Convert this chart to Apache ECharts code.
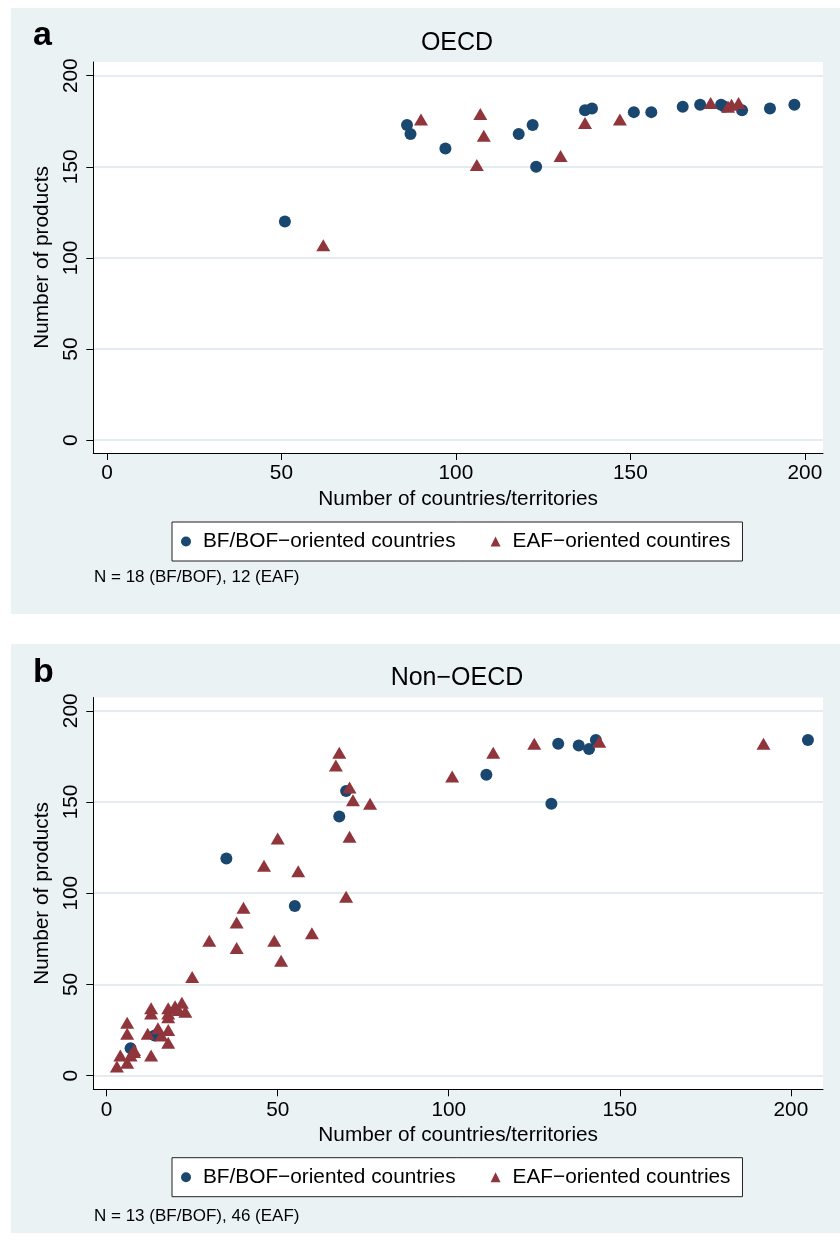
<!DOCTYPE html>
<html>
<head>
<meta charset="utf-8">
<script src="https://cdn.jsdelivr.net/npm/echarts@6/dist/echarts.min.js"></script>
<style>
  html, body { margin: 0; padding: 0; background: #ffffff; }
  body { width: 840px; height: 1243px; position: relative; overflow: hidden; }
  .panel { position: absolute; left: 11px; width: 829px; }
  #panelA { top: 8px; height: 606px; }
  #panelB { top: 644px; height: 589px; }
</style>
</head>
<body>
<div id="panelA" class="panel"></div>
<div id="panelB" class="panel"></div>
<script>
// Axis tick values shared by both panels
const xTicks = [0, 50, 100, 150, 200];
const yTicks = [0, 50, 100, 150, 200];

// Panel a: OECD
const oecdBfX  = [51, 86, 87, 97, 118, 122, 123, 137, 139, 151, 156, 165, 170, 176, 177, 182, 190, 197];
const oecdBfY  = [120, 173, 168, 160, 168, 173, 150, 181, 182, 180, 180, 183, 184, 184, 183, 181, 182, 184];
const oecdEafX = [62, 90, 107, 108, 106, 130, 137, 147, 173, 178, 179, 181];
const oecdEafY = [107, 176, 179, 167, 151, 156, 174, 176, 185, 183, 184, 185];

// Panel b: Non-OECD
const nonBfX  = [111, 130, 132, 138, 141, 143, 205, 70, 68, 35, 55, 7, 14];
const nonBfY  = [165, 149, 182, 181, 179, 184, 184, 156, 142, 119, 93, 15, 22];
const nonEafX = [101, 113, 125, 144, 192, 68, 67, 71, 72, 77, 50, 71, 46, 56, 70, 40, 38, 30, 38, 49, 51, 25, 60,
                 13, 13, 18, 18, 20, 22, 18, 23, 6, 6, 15, 12, 18, 18, 8, 7, 4, 13, 6, 3, 16, 21, 8];
const nonEafY = [164, 177, 182, 183, 182, 177, 170, 158, 151, 149, 130, 131, 115, 112, 98, 92, 84, 74, 70, 74, 63, 54, 78,
                 37, 34, 37, 34, 38, 40, 32, 35, 29, 23, 26, 23, 25, 18, 14, 11, 11, 11, 7, 5, 22, 36, 13];

const BF_NAME = 'BF/BOF\u2212oriented countries';
const NAVY = '#1a476f';
const MAROON = '#90353b';
const FONT = '"Liberation Sans", Arial, Helvetica, sans-serif';
const TXT = 20.8;

function pairs(xs, ys) { return xs.map((x, i) => [x, ys[i]]); }

function buildOption(p) {
  return {
    animation: false,
    backgroundColor: '#eaf2f3',
    textStyle: { fontFamily: FONT },
    graphic: [
      { type: 'text', x: 22, y: p.letterY, style: { text: p.letter, font: 'bold 34px ' + FONT, fill: '#000', textAlign: 'left', textVerticalAlign: 'middle' } },
      { type: 'text', x: 446, y: p.titleY, style: { text: p.title, font: '25px ' + FONT, fill: '#000', textAlign: 'center', textVerticalAlign: 'middle' } },
      { type: 'text', x: 83, y: p.noteY, style: { text: p.note, font: '17px ' + FONT, fill: '#000', textAlign: 'left', textVerticalAlign: 'middle' } }
    ],
    grid: {
      left: 82.3, right: 17, top: p.gridTop, bottom: p.gridBottom,
      show: true, backgroundColor: '#ffffff', borderWidth: 0
    },
    xAxis: {
      type: 'value', min: p.xMin, max: p.xMax,
      name: 'Number of countries/territories', nameLocation: 'middle', nameGap: 33,
      nameTextStyle: { fontSize: TXT, color: '#000', fontFamily: FONT },
      axisLine: { show: true, onZero: false, lineStyle: { color: '#000', width: 1 } },
      axisTick: { show: true, length: 7, customValues: xTicks, lineStyle: { color: '#000', width: 1 } },
      axisLabel: { customValues: xTicks, margin: 10, fontSize: TXT, color: '#000', fontFamily: FONT },
      splitLine: { show: false }
    },
    yAxis: {
      type: 'value', min: p.yMin, max: p.yMax,
      name: 'Number of products', nameLocation: 'middle', nameGap: 36,
      nameTextStyle: { fontSize: TXT, color: '#000', fontFamily: FONT },
      axisLine: { show: true, onZero: false, lineStyle: { color: '#000', width: 1 } },
      axisTick: { show: true, length: 7, customValues: yTicks, lineStyle: { color: '#000', width: 1 } },
      axisLabel: { customValues: yTicks, rotate: 90, margin: 12, fontSize: TXT, color: '#000', fontFamily: FONT },
      splitLine: { show: true, lineStyle: { color: '#e4ecef', width: 2 } }
    },
    legend: {
      left: 161, top: p.legendTop,
      orient: 'horizontal',
      padding: [9, 12, 9, 9],
      itemGap: 35, itemWidth: 10, itemHeight: 10,
      borderColor: '#222', borderWidth: 1, backgroundColor: '#ffffff',
      textStyle: { fontSize: TXT, color: '#000', fontFamily: FONT, padding: [0, 0, 0, 7] },
      data: [
        { name: BF_NAME, icon: 'circle' },
        { name: p.eafName, icon: 'triangle' }
      ]
    },
    series: [
      {
        type: 'scatter', name: BF_NAME, data: pairs(p.bfX, p.bfY),
        symbol: 'circle', symbolSize: 12,
        itemStyle: { color: NAVY, opacity: 1 }
      },
      {
        type: 'scatter', name: p.eafName, data: pairs(p.eafX, p.eafY),
        symbol: 'triangle', symbolSize: [14, 12],
        itemStyle: { color: MAROON, opacity: 1 }
      }
    ]
  };
}

const chartA = echarts.init(document.getElementById('panelA'), null, { renderer: 'canvas' });
chartA.setOption(buildOption({
  letter: 'a', letterY: 28, title: 'OECD', titleY: 35,
  note: 'N = 18 (BF/BOF), 12 (EAF)', noteY: 569,
  gridTop: 54, gridBottom: 161, legendTop: 514,
  xMin: -3.9, xMax: 205.2, yMin: -7, yMax: 207.5,
  eafName: 'EAF\u2212oriented countires',
  bfX: oecdBfX, bfY: oecdBfY, eafX: oecdEafX, eafY: oecdEafY
}));

const chartB = echarts.init(document.getElementById('panelB'), null, { renderer: 'canvas' });
chartB.setOption(buildOption({
  letter: 'b', letterY: 29, title: 'Non\u2212OECD', titleY: 34,
  note: 'N = 13 (BF/BOF), 46 (EAF)', noteY: 572,
  gridTop: 53.5, gridBottom: 143.7, legendTop: 513.7,
  xMin: -3.9, xMax: 209.4, yMin: -7.5, yMax: 207.3,
  eafName: 'EAF\u2212oriented countries',
  bfX: nonBfX, bfY: nonBfY, eafX: nonEafX, eafY: nonEafY
}));
</script>
</body>
</html>
